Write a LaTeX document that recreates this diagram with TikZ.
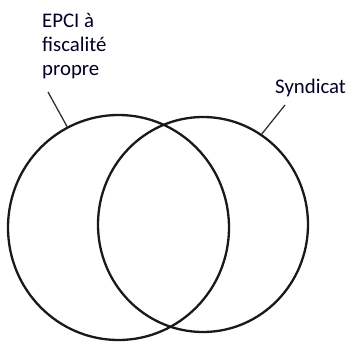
\documentclass[tikz,border=0pt]{standalone}
\usepackage{fontspec}
\setmainfont{Carlito}
\usetikzlibrary{shapes.geometric}
\begin{document}
\begin{tikzpicture}[x=1pt,y=-1pt,
  setcircle/.style={draw=black!90, line width=2.3pt, ellipse, inner sep=0pt},
  labeltext/.style={font=\fontsize{20.8}{24}\selectfont, text=black!85!blue, inner sep=0pt, anchor=base west},
  leader/.style={draw=black!80, line width=1.3pt}]
\useasboundingbox (0,0) rectangle (350,342);
\node[setcircle, minimum width=221pt, minimum height=225pt] (L) at (118.5,227.5) {};
\node[setcircle, minimum width=210pt, minimum height=215pt] (R) at (203,224.5) {};
\node[labeltext] (epci) at (42,28) {\begin{tabular}[t]{@{}l@{}}EPCI à\\fiscalité\\propre\end{tabular}};
\node[labeltext] (synd) at (275,93) {Syndicat};
\coordinate (ls) at (48,92);
\coordinate (rs) at (285,105);
\draw[leader] (ls) -- (L.117);
\draw[leader] (rs) -- (R.57);
\end{tikzpicture}
\end{document}
